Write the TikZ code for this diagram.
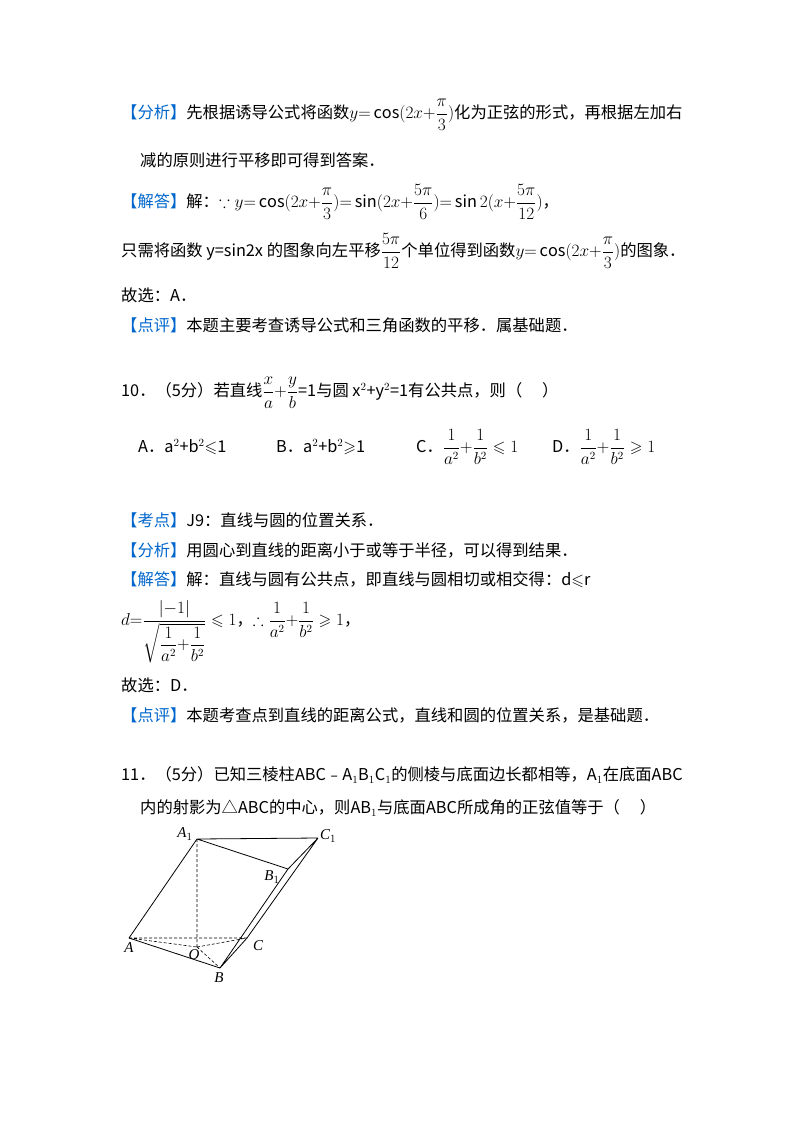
\documentclass[tikz,border=0pt]{standalone}
\usepackage{amsmath,amssymb}
\usepackage{fontspec}
\setmainfont{Noto Sans CJK SC}
\newfontfamily\figfont{Liberation Serif}
\definecolor{tagblue}{RGB}{0,102,204}
\newcommand{\tg}[1]{\textcolor{tagblue}{【#1】}}
\newcommand{\fr}[2]{{\scriptstyle\dfrac{#1}{#2}}}
\begin{document}
\begin{tikzpicture}[x=1pt,y=-1pt,
  txt/.style={anchor=west,inner sep=0pt,font=\fontsize{16.3}{19}\selectfont},
  lbl/.style={inner sep=1pt,font=\figfont\itshape\fontsize{15}{17}\selectfont},
  edge/.style={line width=0.8pt},
  hid/.style={line width=0.6pt,dashed,dash pattern=on 3pt off 2pt}]
\useasboundingbox (0,0) rectangle (800,1132);
\node[txt] (l1) at (121,115) {\tg{分析}先根据诱导公式将函数$y{=}\cos(2x{+}\dfrac{\pi}{3})$化为正弦的形式，再根据左加右};
\node[txt] (l2) at (140,160) {减的原则进行平移即可得到答案．};
\node[txt] (l3) at (121,202) {\tg{解答}解：$\because y{=}\cos(2x{+}\dfrac{\pi}{3}){=}\sin(2x{+}\dfrac{5\pi}{6}){=}\sin2(x{+}\dfrac{5\pi}{12})$，};
\node[txt] (l4) at (121,251) {只需将函数 y=sin2x 的图象向左平移$\dfrac{5\pi}{12}$个单位得到函数$y{=}\cos(2x{+}\dfrac{\pi}{3})$的图象．};
\node[txt] (l5) at (121,295) {故选：A．};
\node[txt] (l6) at (121,325) {\tg{点评}本题主要考查诱导公式和三角函数的平移．属基础题．};
\node[txt] (l7) at (121,393) {10．（5分）若直线$\fr{x}{a}{+}\fr{y}{b}$=1与圆 x$^2$+y$^2$=1有公共点，则（\quad\ ）};
\node[txt] (oa) at (138,447) {A．a$^2$+b$^2$$\leqslant$1};
\node[txt] (ob) at (276,447) {B．a$^2$+b$^2$$\geqslant$1};
\node[txt] (oc) at (416,447) {C．$\dfrac{1}{a^2}{+}\dfrac{1}{b^2}\leqslant1$};
\node[txt] (od) at (552,447) {D．$\dfrac{1}{a^2}{+}\dfrac{1}{b^2}\geqslant1$};
\node[txt] (l9) at (121,520) {\tg{考点}J9：直线与圆的位置关系．};
\node[txt] (l10) at (121,550) {\tg{分析}用圆心到直线的距离小于或等于半径，可以得到结果．};
\node[txt] (l11) at (121,580) {\tg{解答}解：直线与圆有公共点，即直线与圆相切或相交得：d$\leqslant$r};
\node[txt] (l12) at (121,632) {$d{=}\dfrac{|{-}1|}{\sqrt{\dfrac{1}{a^2}{+}\dfrac{1}{b^2}}}\leqslant1$，$\therefore\dfrac{1}{a^2}{+}\dfrac{1}{b^2}\geqslant1$，};
\node[txt] (l13) at (121,685) {故选：D．};
\node[txt] (l14) at (121,715) {\tg{点评}本题考查点到直线的距离公式，直线和圆的位置关系，是基础题．};
\node[txt] (l15) at (121,775) {11．（5分）已知三棱柱ABC﹣A$_1$B$_1$C$_1$的侧棱与底面边长都相等，A$_1$在底面ABC};
\node[txt] (l16) at (140,808) {内的射影为△ABC的中心，则AB$_1$与底面ABC所成角的正弦值等于（\quad\ ）};
% figure
\coordinate (A1) at (197,839);
\coordinate (C1) at (318,838);
\coordinate (B1) at (288,869);
\coordinate (A) at (129,938);
\coordinate (C) at (247,938);
\coordinate (B) at (220,968);
\coordinate (O) at (197,947);
\draw[edge] (A1)--(C1) (A1)--(B1) (A1)--(A) (A)--(B) (B)--(C) (B)--(B1) (C)--(C1) (B1)--(C1);
\draw[hid] (A)--(C) (A1)--(O) (A)--(O) (O)--(B) (O)--(C);
\node[lbl] (lA1) at (185,834) {A$_1$};
\node[lbl] (lC1) at (328,836) {C$_1$};
\node[lbl] (lB1) at (272,877) {B$_1$};
\node[lbl] (lA) at (129,948) {A};
\node[lbl] (lC) at (258,946) {C};
\node[lbl] (lB) at (219,978) {B};
\node[lbl] (lO) at (194,955) {O};
\end{tikzpicture}
\end{document}
